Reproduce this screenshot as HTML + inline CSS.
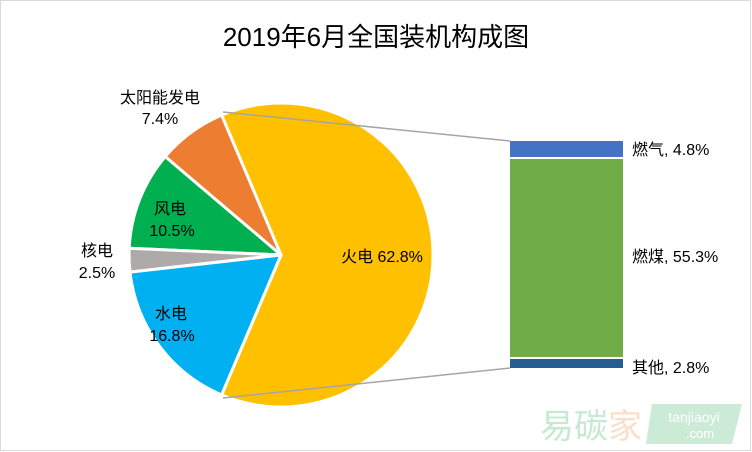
<!DOCTYPE html>
<html><head><meta charset="utf-8"><style>
html,body{margin:0;padding:0;background:#fff}
svg{display:block}
text{font-family:"Liberation Sans","Noto Sans CJK SC",sans-serif;fill:#000}
</style></head><body>
<svg width="752" height="452" viewBox="0 0 752 452">
<rect x="0.5" y="0.5" width="750" height="450" fill="#fff" stroke="#d9d9d9"/>
<text x="376" y="46" font-size="26" text-anchor="middle">2019年6月全国装机构成图</text>
<g stroke="#fff" stroke-width="3" stroke-linejoin="round">
<path d="M281,255 L221.6,115.1 A152,152 0 1 1 221.6,394.9 Z" fill="#ffc000"/>
<path d="M281,255 L221.6,115.1 A152,152 0 0 0 165.2,156.6 Z" fill="#ed7d31"/>
<path d="M281,255 L165.2,156.6 A152,152 0 0 0 129.2,248.2 Z" fill="#00b050"/>
<path d="M281,255 L129.2,248.2 A152,152 0 0 0 130.0,272.1 Z" fill="#aeaaaa"/>
<path d="M281,255 L130.0,272.1 A152,152 0 0 0 221.6,394.9 Z" fill="#00b0f0"/>
</g>
<line x1="223" y1="112" x2="510" y2="141" stroke="#a5a5a5" stroke-width="1.5"/>
<line x1="223" y1="398" x2="510" y2="368" stroke="#a5a5a5" stroke-width="1.5"/>
<rect x="510" y="141" width="113" height="16" fill="#4472c4"/>
<rect x="510" y="159" width="113" height="198" fill="#70ad47"/>
<rect x="510" y="359" width="113" height="9" fill="#255e91"/>
<g font-size="16">
<text x="160" y="103" text-anchor="middle">太阳能发电</text>
<text x="160" y="124" text-anchor="middle">7.4%</text>
<text x="170" y="214" text-anchor="middle">风电</text>
<text x="172" y="236" text-anchor="middle">10.5%</text>
<text x="97" y="256" text-anchor="middle">核电</text>
<text x="97" y="278" text-anchor="middle">2.5%</text>
<text x="171" y="319" text-anchor="middle">水电</text>
<text x="172" y="341" text-anchor="middle">16.8%</text>
<text x="382" y="262" text-anchor="middle">火电 62.8%</text>
<text x="632" y="155">燃气, 4.8%</text>
<text x="632" y="262">燃煤, 55.3%</text>
<text x="632" y="373">其他, 2.8%</text>
</g>
<g opacity="0.45">
<text x="540" y="438" font-size="34" style="fill:#7fcf9a">易碳</text>
<text x="608" y="438" font-size="34" style="fill:#f7b98a">家</text>
<path d="M652,404 L742,404 L732,444 L646,444 Z" fill="#8fd3a8"/>
<text x="694" y="422" font-size="14" text-anchor="middle" style="fill:#fff">tanjiaoyi</text>
<text x="700" y="438" font-size="13" text-anchor="middle" style="fill:#fff">.com</text>
</g>
</svg>
</body></html>
